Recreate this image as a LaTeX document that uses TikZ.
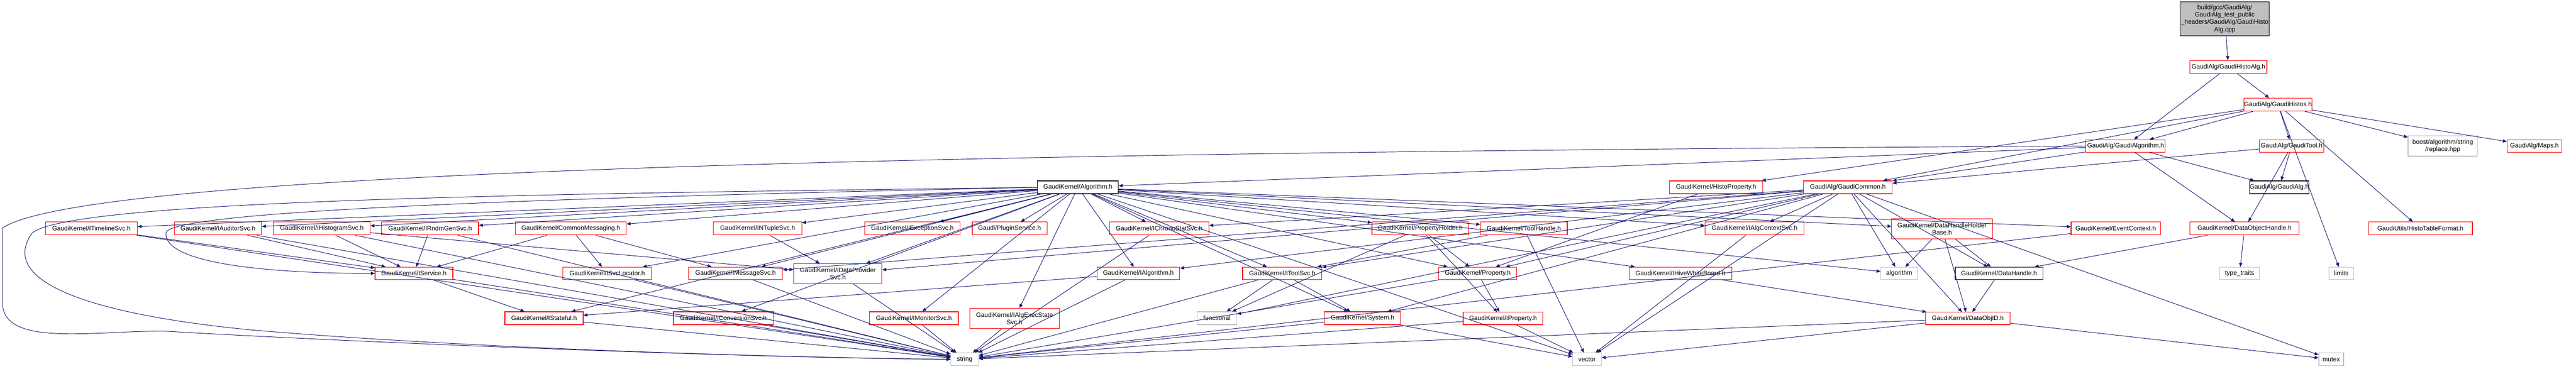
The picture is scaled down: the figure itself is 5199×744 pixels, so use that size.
\documentclass[tikz,border=0pt]{standalone}
\usepackage{fontspec}
\setmainfont{Liberation Sans}
\usetikzlibrary{arrows.meta}

\definecolor{edgeblue}{HTML}{191970}
\definecolor{sysgray}{HTML}{BFBFBF}

\tikzset{
  hdr/.style={draw=red, fill=white, line width=0.9pt, inner sep=0pt,
    font=\fontsize{9.6}{11.3}\selectfont, align=center},
  docbox/.style={hdr, draw=black},
  sysbox/.style={hdr, draw=sysgray},
  rootbox/.style={hdr, draw=black, fill=sysgray},
  inc/.style={draw=edgeblue, line width=0.75pt, -{Triangle[length=6pt,width=5pt]}},
}

% node by its pixel corners: style, name, x1, y1, x2, y2, text
\newcommand\hnode[7]{\node[#1, minimum width={(#5-#3)*0.75pt},
  minimum height={(#6-#4)*0.75pt}] (#2) at ({(#3+#5)/2},{(#4+#6)/2}) {#7};}

\begin{document}
\begin{tikzpicture}[x=0.75pt, y=-0.75pt]
 \useasboundingbox (0,0) rectangle (5199,744);

 % upper part
 \hnode{rootbox}{root}{4400}{4}{4580}{72}{build/gcc/GaudiAlg/\\GaudiAlg\_test\_public\\\_headers/GaudiAlg/GaudiHisto\\Alg.cpp}
 \hnode{hdr}{histoalg}{4420}{122}{4575}{148}{GaudiAlg/GaudiHistoAlg.h}
 \hnode{hdr}{histos}{4530}{198}{4665}{224}{GaudiAlg/GaudiHistos.h}
 \hnode{hdr}{galgorithm}{4210}{282}{4370}{307}{GaudiAlg/GaudiAlgorithm.h}
 \hnode{hdr}{gtool}{4560}{282}{4690}{307}{GaudiAlg/GaudiTool.h}
 \hnode{sysbox}{boost}{4860}{274}{5000}{315}{boost/algorithm/string\\/replace.hpp}
 \hnode{hdr}{maps}{5060}{282}{5170}{307}{GaudiAlg/Maps.h}

 % row of Algorithm.h
 \hnode{docbox}{algo}{2094}{365}{2257}{391}{GaudiKernel/Algorithm.h}
 \hnode{hdr}{histoprop}{3369}{365}{3558}{391}{GaudiKernel/HistoProperty.h}
 \hnode{hdr}{gcommon}{3640}{365}{3819}{391}{GaudiAlg/GaudiCommon.h}
 \hnode{docbox}{galg}{4540}{365}{4660}{391}{GaudiAlg/GaudiAlg.h}

 % interfaces
 \hnode{hdr}{timeline}{92}{448}{277}{474}{GaudiKernel/ITimelineSvc.h}
 \hnode{hdr}{auditor}{352}{448}{528}{474}{GaudiKernel/IAuditorSvc.h}
 \hnode{hdr}{histsvc}{552}{448}{747}{474}{GaudiKernel/IHistogramSvc.h}
 \hnode{hdr}{rndm}{770}{448}{966}{474}{GaudiKernel/IRndmGenSvc.h}
 \hnode{hdr}{commonmsg}{1040}{448}{1264}{474}{GaudiKernel/CommonMessaging.h}
 \hnode{hdr}{ntuple}{1440}{448}{1618}{474}{GaudiKernel/INTupleSvc.h}
 \hnode{hdr}{exception}{1745}{448}{1938}{474}{GaudiKernel/IExceptionSvc.h}
 \hnode{hdr}{plugin}{1962}{448}{2113}{474}{Gaudi/PluginService.h}
 \hnode{hdr}{chrono}{2239}{448}{2440}{474}{GaudiKernel/IChronoStatSvc.h}
 \hnode{hdr}{propholder}{2769}{448}{2964}{474}{GaudiKernel/PropertyHolder.h}
 \hnode{hdr}{toolhandle}{2988}{448}{3163}{474}{GaudiKernel/ToolHandle.h}
 \hnode{hdr}{algctx}{3441}{448}{3641}{474}{GaudiKernel/IAlgContextSvc.h}
 \hnode{hdr}{dhhb}{3818}{441}{4021}{482}{GaudiKernel/DataHandleHolder\\Base.h}
 \hnode{hdr}{eventctx}{4180}{448}{4360}{474}{GaudiKernel/EventContext.h}
 \hnode{hdr}{dobjhandle}{4420}{448}{4640}{474}{GaudiKernel/DataObjectHandle.h}
 \hnode{hdr}{histotable}{4780}{448}{4990}{474}{GaudiUtils/HistoTableFormat.h}

 \hnode{hdr}{iservice}{757}{539}{914}{564}{GaudiKernel/IService.h}
 \hnode{hdr}{svcloc}{1136}{539}{1315}{564}{GaudiKernel/ISvcLocator.h}
 \hnode{hdr}{msgsvc}{1390}{539}{1579}{564}{GaudiKernel/IMessageSvc.h}
 \hnode{hdr}{dataprov}{1602}{532}{1780}{572}{GaudiKernel/IDataProvider\\Svc.h}
 \hnode{hdr}{ialgorithm}{2214}{539}{2381}{564}{GaudiKernel/IAlgorithm.h}
 \hnode{hdr}{toolsvc}{2508}{539}{2668}{564}{GaudiKernel/IToolSvc.h}
 \hnode{hdr}{property}{2904}{539}{3061}{564}{GaudiKernel/Property.h}
 \hnode{hdr}{hivewb}{3288}{539}{3495}{564}{GaudiKernel/IHiveWhiteBoard.h}
 \hnode{sysbox}{stdalgo}{3796}{539}{3870}{564}{algorithm}
 \hnode{docbox}{dhandle}{3946}{539}{4123}{564}{GaudiKernel/DataHandle.h}
 \hnode{sysbox}{typetraits}{4480}{539}{4560}{564}{type\_traits}
 \hnode{sysbox}{limits}{4700}{539}{4750}{564}{limits}

 \hnode{hdr}{stateful}{1019}{629}{1177}{655}{GaudiKernel/IStateful.h}
 \hnode{hdr}{convsvc}{1359}{629}{1561}{655}{GaudiKernel/IConversionSvc.h}
 \hnode{hdr}{monitor}{1755}{629}{1934}{655}{GaudiKernel/IMonitorSvc.h}
 \hnode{hdr}{execstate}{1957}{622}{2138}{663}{GaudiKernel/IAlgExecState\\Svc.h}
 \hnode{sysbox}{functional}{2416}{629}{2496}{655}{functional}
 \hnode{hdr}{system}{2673}{629}{2827}{655}{GaudiKernel/System.h}
 \hnode{hdr}{iproperty}{2953}{630}{3114}{655}{GaudiKernel/IProperty.h}
 \hnode{hdr}{dataobjid}{3886}{630}{4057}{655}{GaudiKernel/DataObjID.h}

 \hnode{sysbox}{string}{1919}{712}{1975}{738}{string}
 \hnode{sysbox}{vector}{3174}{712}{3232}{738}{vector}
 \hnode{sysbox}{mutex}{4680}{712}{4730}{738}{mutex}

 % includes
 \foreach \s/\t in {root/histoalg, histoalg/galgorithm, histoalg/histos,
   histos/galgorithm, histos/gtool, histos/histoprop, histos/boost, histos/maps,
   histos/histotable, histos/limits, histos/gcommon,
   galgorithm/algo, galgorithm/galg, galgorithm/gcommon, galgorithm/dobjhandle,
   gtool/galg, gtool/gcommon, gtool/dobjhandle,
   dobjhandle/typetraits, dobjhandle/dhandle, eventctx/string,
   algo/timeline, algo/auditor, algo/histsvc, algo/rndm, algo/commonmsg,
   algo/ntuple, algo/exception, algo/plugin, algo/chrono, algo/propholder,
   algo/toolhandle, algo/algctx, algo/dhhb, algo/eventctx, algo/svcloc,
   algo/msgsvc, algo/dataprov, algo/ialgorithm, algo/toolsvc, algo/property,
   algo/hivewb, algo/stateful, algo/convsvc, algo/monitor, algo/execstate,
   algo/system, algo/stdalgo, algo/vector,
   gcommon/chrono, gcommon/algctx, gcommon/ialgorithm, gcommon/toolsvc,
   gcommon/system, gcommon/functional, gcommon/property, gcommon/stdalgo,
   gcommon/dhandle, gcommon/dataobjid, gcommon/vector, gcommon/mutex,
   gcommon/msgsvc, gcommon/dataprov,
   histoprop/property,
   timeline/iservice, auditor/iservice, histsvc/iservice, rndm/iservice,
   histsvc/dataprov, commonmsg/svcloc, commonmsg/msgsvc, commonmsg/iservice,
   ntuple/dataprov, iservice/stateful, ialgorithm/stateful,
   propholder/property, propholder/iproperty, propholder/functional,
   toolhandle/toolsvc, toolhandle/vector, toolsvc/functional, toolsvc/system,
   property/iproperty, iproperty/vector, system/vector, algctx/vector,
   dhhb/stdalgo, dhhb/dhandle, dhhb/dataobjid, dhandle/dataobjid,
   hivewb/dataobjid, dataobjid/mutex, dataobjid/vector,
   timeline/string, auditor/string, histsvc/string, rndm/string, iservice/string,
   svcloc/string, msgsvc/string, dataprov/string, stateful/string,
   convsvc/string, monitor/string, execstate/string, chrono/string,
   ialgorithm/string, toolsvc/string, system/string, iproperty/string,
   property/string, dataobjid/string}
   \draw[inc] (\s) -- (\t);

 % long edges round the left side
 \draw[inc] (galgorithm.west) .. controls (2400,305) and (200,330) .. (5,460)
   -- (5,610) .. controls (5,700) and (180,668) .. (330,668)
   .. controls (700,690) and (1500,722) .. (string.west);
 \draw[inc] (algo.west) .. controls (1200,390) and (150,400) .. (65,470)
   .. controls (0,560) and (150,630) .. (500,665)
   .. controls (900,700) and (1500,720) .. (string.west);
 \draw[inc] (algo.west) .. controls (1300,395) and (340,420) .. (335,470)
   .. controls (330,540) and (600,552) .. (iservice.west);
\end{tikzpicture}
\end{document}
